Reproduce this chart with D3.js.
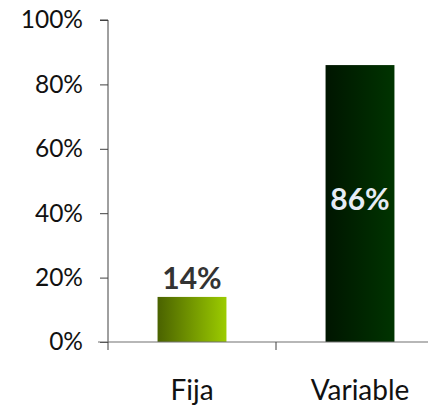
<!DOCTYPE html>
<html><head><meta charset="utf-8">
<script src="https://cdn.jsdelivr.net/npm/d3@7"></script>
<style>body{margin:0;background:#fff}</style>
</head><body>
<svg id="c" width="428" height="407"></svg>
<script>
const categories = ["Fija", "Variable"];
const values = [0.14, 0.86];
const labels = ["14%", "86%"];
const yTicks = [0, 0.2, 0.4, 0.6, 0.8, 1.0];

const svg = d3.select("#c");
const x = d3.scaleBand().domain(categories).range([108, 444]).padding(0);
const y = d3.scaleLinear().domain([0, 1]).range([342, 20]);

const defs = svg.append("defs");
const grads = [["g0", "#4a6200", "#9ccc00"], ["g1", "#001500", "#003400"]];
grads.forEach(([id, a, b]) => {
  const g = defs.append("linearGradient").attr("id", id).attr("x1", "0").attr("x2", "1").attr("y1", "0").attr("y2", "0");
  g.append("stop").attr("offset", "0").attr("stop-color", a);
  g.append("stop").attr("offset", "1").attr("stop-color", b);
});

const bw = x.bandwidth() * 0.41;
svg.selectAll("rect.bar").data(values).enter().append("rect")
  .attr("x", (d, i) => x(categories[i]) + x.bandwidth() / 2 - bw / 2)
  .attr("width", bw)
  .attr("y", d => y(d))
  .attr("height", d => y(0) - y(d))
  .attr("fill", (d, i) => `url(#g${i})`);

// y axis
const yAxis = d3.axisLeft(y).tickValues(yTicks).tickFormat(d3.format(".0%")).tickSize(8).tickPadding(17);
const ya = svg.append("g").attr("transform", "translate(108,0)").call(yAxis);
ya.select(".domain").attr("stroke", "#404040").attr("d", "M-8,20H0V342");
ya.selectAll(".tick line").attr("stroke", "#404040");
ya.selectAll(".tick text").attr("font-family", "Lato, sans-serif").attr("font-size", 24.5).attr("fill", "#111");

// x axis
svg.append("line").attr("x1", 98).attr("x2", 428).attr("y1", 342).attr("y2", 342).attr("stroke", "#707070").attr("stroke-width", 1.2);
const bounds = [108, 276];
svg.selectAll("line.xt").data(bounds).enter().append("line")
  .attr("x1", d => d).attr("x2", d => d).attr("y1", 342).attr("y2", 350).attr("stroke", "#404040");

svg.selectAll("text.cat").data(categories).enter().append("text")
  .attr("x", d => x(d) + x.bandwidth() / 2)
  .attr("y", 400)
  .attr("text-anchor", "middle")
  .attr("font-family", "Lato, sans-serif").attr("font-size", 28)
  .attr("fill", "#111")
  .text(d => d);

// value labels
svg.selectAll("text.val").data(values).enter().append("text")
  .attr("x", (d, i) => x(categories[i]) + x.bandwidth() / 2)
  .attr("y", (d, i) => i === 0 ? y(d) - 8 : (y(d) + y(0)) / 2 + 6)
  .attr("text-anchor", "middle")
  .attr("font-family", "Lato, sans-serif").attr("font-weight", "bold").attr("font-size", 30)
  .attr("fill", (d, i) => i === 0 ? "#333" : "#e6ecf6")
  .text((d, i) => labels[i]);
</script>
</body></html>
